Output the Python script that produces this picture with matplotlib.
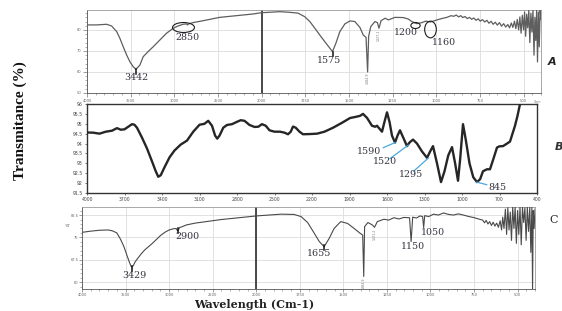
import numpy as np
import matplotlib
matplotlib.use('Agg')
import matplotlib.pyplot as plt
from matplotlib.path import Path
from matplotlib.transforms import Affine2D
from matplotlib.ticker import FixedLocator

# ---------------- data (wavenumber cm-1, transmittance %) ----------------
spec_a = [
    (4000, 82.4), (3890, 82.4), (3775, 82.7), (3718, 81.9), (3660, 79.2), (3623, 76.0),
    (3585, 72.0), (3546, 68.1), (3509, 64.9), (3471, 62.5), (3440, 61.3), (3394, 63.3),
    (3356, 67.3), (3300, 69.7), (3242, 72.0), (3166, 75.2), (3090, 78.4), (3014, 80.8),
    (2957, 81.9), (2900, 82.7), (2861, 82.9), (2850, 82.4), (2835, 82.9), (2785, 83.5),
    (2670, 84.4), (2480, 86.0), (2289, 86.8), (2099, 87.6), (2004, 88.2),
    (1897, 88.7), (1839, 88.4), (1791, 88.0), (1753, 86.3), (1724, 84.0), (1695, 80.8),
    (1667, 77.6), (1638, 74.4), (1609, 71.3), (1594, 69.7), (1575, 73.6), (1552, 79.2),
    (1523, 82.9), (1494, 84.3), (1466, 84.0), (1437, 81.2), (1418, 77.6), (1402, 76.5),
    (1393, 60.0), (1387, 77.0), (1375, 81.6), (1351, 84.0), (1337, 83.5), (1328, 80.8),
    (1316, 84.4), (1293, 85.6), (1274, 84.8), (1236, 86.0), (1188, 85.9), (1160, 85.2),
    (1140, 84.0), (1111, 83.0), (1082, 83.5), (1060, 84.2), (1034, 83.8), (1010, 84.4),
    (987, 85.0), (960, 85.6), (939, 86.0), (915, 86.8),
    (900, 86.5), (885, 87.1), (872, 86.2), (860, 86.8), (848, 85.9), (835, 86.4),
    (822, 85.4), (810, 86.0), (797, 85.1), (785, 85.7), (772, 84.6), (760, 85.3),
    (748, 84.2), (735, 84.9), (722, 83.8), (710, 84.6), (698, 83.2), (686, 84.1),
    (674, 82.7), (662, 83.7), (650, 82.3), (638, 83.5), (626, 81.8), (614, 83.0),
    (602, 81.4), (590, 82.6), (580, 81.0), (570, 83.3), (561, 81.2), (552, 84.2),
    (544, 80.6), (536, 85.0), (528, 80.0), (521, 86.2), (514, 78.5), (507, 87.0),
    (500, 80.0), (494, 88.6), (488, 77.0), (482, 87.5), (476, 81.0), (470, 89.3),
    (464, 74.0), (458, 88.0), (452, 79.0), (446, 89.3), (440, 68.0), (435, 86.0),
    (430, 75.0), (425, 89.3), (420, 64.8), (415, 88.5), (410, 72.0), (405, 89.3),
    (400, 85.0),
]

spec_b = [
    (4000, 94.56), (3950, 94.55), (3900, 94.50), (3850, 94.60), (3800, 94.65), (3760, 94.78),
    (3730, 94.70), (3700, 94.72), (3670, 94.85), (3640, 94.98), (3620, 94.95), (3600, 94.80),
    (3560, 94.30), (3520, 93.75), (3480, 93.10), (3450, 92.60), (3430, 92.32), (3410, 92.40),
    (3380, 92.80), (3340, 93.30), (3300, 93.65), (3250, 93.95), (3200, 94.15), (3150, 94.60),
    (3100, 94.95), (3060, 95.00), (3030, 95.15), (3000, 94.90), (2975, 94.40), (2958, 94.25),
    (2940, 94.40), (2910, 94.80), (2880, 94.94), (2840, 94.98), (2800, 95.10), (2770, 95.18),
    (2740, 95.15), (2700, 94.94), (2660, 94.84), (2630, 94.85), (2600, 94.98), (2570, 94.90),
    (2540, 94.67), (2500, 94.60), (2456, 94.60), (2420, 94.55), (2392, 94.47), (2370, 94.60),
    (2352, 94.86), (2330, 94.80), (2300, 94.60), (2272, 94.47), (2220, 94.48), (2160, 94.50),
    (2100, 94.60), (2032, 94.80), (1960, 95.05), (1896, 95.29), (1850, 95.35), (1816, 95.40),
    (1792, 95.50), (1760, 95.30), (1720, 94.90), (1695, 94.85), (1680, 94.90), (1660, 94.75),
    (1640, 94.60), (1620, 95.10), (1600, 95.58), (1580, 95.10), (1560, 94.40), (1536, 94.05),
    (1516, 94.40), (1496, 94.67), (1470, 94.30), (1440, 93.87), (1420, 94.05), (1392, 94.20),
    (1360, 94.00), (1320, 93.60), (1280, 93.28), (1255, 93.60), (1232, 93.87), (1200, 93.00),
    (1168, 92.05), (1140, 92.60), (1110, 93.40), (1080, 93.82), (1055, 93.00), (1032, 92.12),
    (1015, 93.20), (992, 94.98), (970, 94.20), (940, 93.00), (910, 92.30), (880, 92.05),
    (855, 92.20), (832, 92.60), (800, 92.70), (776, 92.70), (750, 93.20), (720, 93.80),
    (700, 93.86), (672, 93.87), (640, 94.00), (616, 94.10), (596, 94.50), (576, 94.90),
    (556, 95.40), (536, 96.00), (520, 96.60),
]

spec_c = [
    (4000, 76.7), (3900, 77.1), (3800, 77.4), (3700, 77.5), (3650, 77.2), (3600, 76.5),
    (3560, 74.5), (3520, 72.0), (3490, 69.5), (3460, 67.0), (3440, 65.5), (3429, 65.0),
    (3410, 65.6), (3390, 66.8), (3360, 68.0), (3320, 69.5), (3280, 70.8), (3240, 71.8),
    (3200, 72.8), (3150, 74.2), (3100, 75.6), (3050, 76.7), (3000, 77.5), (2950, 77.9),
    (2920, 78.0), (2905, 77.3), (2895, 77.4), (2880, 78.3), (2850, 78.6), (2800, 79.2),
    (2700, 79.8), (2600, 80.2), (2500, 80.6), (2400, 81.0), (2300, 81.3), (2200, 81.6),
    (2100, 81.9), (2000, 82.2),
    (1857, 82.8), (1783, 82.7), (1743, 82.0), (1705, 80.0), (1667, 76.4), (1638, 73.6),
    (1610, 71.9), (1581, 74.7), (1553, 78.0), (1515, 80.3), (1476, 79.7), (1438, 78.0),
    (1404, 76.4), (1389, 75.8), (1383, 61.9), (1378, 78.6), (1359, 80.0), (1334, 79.2),
    (1321, 78.4), (1305, 80.3), (1267, 81.1), (1240, 80.8), (1210, 81.6), (1180, 81.2),
    (1153, 81.7), (1120, 81.6), (1111, 73.6), (1102, 81.8), (1080, 81.5), (1060, 82.2),
    (1045, 82.0), (1039, 78.3), (1033, 82.3), (1010, 82.0), (982, 82.8), (955, 82.5),
    (925, 83.2), (895, 82.7), (868, 82.5), (840, 82.9), (811, 82.5), (780, 82.0),
    (754, 81.7), (725, 81.2),
    (700, 80.8), (690, 79.9), (680, 80.7), (670, 79.5), (660, 80.3), (650, 79.0),
    (640, 80.1), (630, 78.8), (620, 79.8), (610, 78.4), (600, 80.6), (592, 77.5),
    (585, 81.8), (578, 78.0), (570, 84.5), (563, 76.0), (556, 85.0), (549, 77.5),
    (542, 83.5), (535, 74.0), (528, 85.2), (521, 78.0), (514, 85.2), (507, 73.0),
    (500, 84.0), (493, 76.0), (486, 85.2), (479, 72.5), (472, 85.2), (465, 80.0),
    (458, 85.0), (451, 74.0), (444, 85.2), (437, 77.0), (430, 85.2), (424, 70.0),
    (418, 85.2), (414, 57.8), (410, 84.0), (405, 78.0), (400, 84.5),
]

wn_a, t_a = map(list, zip(*spec_a))
wn_b, t_b = map(list, zip(*spec_b))
wn_c, t_c = map(list, zip(*spec_c))

xticks_split = [4000, 3500, 3000, 2500, 2000, 1750, 1500, 1250, 1000, 750, 500]
xticks_lin = [4000, 3700, 3400, 3100, 2800, 2500, 2200, 1900, 1600, 1300, 1000, 700, 400]
yticks_a = [50, 60, 70, 80]
yticks_b = [91.5, 92, 92.5, 93, 93.5, 94, 94.5, 95, 95.5, 96]
yticks_c = [60, 67.5, 75, 82.5]

# peak annotations: (label, x, y)
ann_a = [("3442", 3440, 57.6), ("2850", 2846, 76.2), ("1575", 1615, 65.7),
         ("1200", 1172, 78.6), ("1160", 957, 73.8)]
ann_b = [("1590", 1744, 93.60), ("1520", 1620, 93.09), ("1295", 1404, 92.43), ("845", 716, 91.77)]
ann_c = [("3429", 3399, 62.2), ("2900", 2792, 75.2), ("1655", 1637, 69.5),
         ("1150", 1098, 71.8), ("1050", 984, 76.5)]


# ---------------- split (scale-change at 2000) axis ----------------
def fwd(w):
    w = np.asarray(w, dtype=float)
    return np.where(w >= 2000, w / 500.0 - 4.0, (w - 2000.0) / 250.0)


def inv(u):
    u = np.asarray(u, dtype=float)
    return np.where(u >= 0, 500.0 * (u + 4.0), 2000.0 + 250.0 * u)


W, H = 562, 311
fig = plt.figure(figsize=(W / 100, H / 100), dpi=100)


def box(l, t, r, b):
    return [l / W, 1 - b / H, (r - l) / W, (b - t) / H]


axA = fig.add_axes(box(87, 10, 541, 93))
axB = fig.add_axes(box(87, 104, 537, 193))
axC = fig.add_axes(box(82, 207, 535, 289))

minor_split = [v for v in range(3900, 2000, -100) if v % 500] + \
              [v for v in range(1950, 399, -50) if v % 250]


def style_split(ax, yticks, ylim, yminor, tick_len=3, pad=1.0):
    ax.set_xscale('function', functions=(fwd, inv))
    ax.set_xlim(4000, 400)
    ax.set_ylim(*ylim)
    ax.set_xticks(xticks_split)
    ax.set_xticklabels([str(v) for v in xticks_split])
    ax.xaxis.set_minor_locator(FixedLocator(minor_split))
    ax.set_yticks(yticks)
    ax.set_yticklabels(['%g' % v for v in yticks])
    ax.yaxis.set_minor_locator(FixedLocator(yminor))
    ax.grid(True, which='major', color='#dcdcdc', lw=0.6)
    ax.set_axisbelow(True)
    ax.axvline(2000, color='#3a3a3a', lw=1.3, zorder=1.5)
    ax.tick_params(which='major', labelsize=2.6, colors='#777', labelcolor='#666',
                   length=tick_len, width=0.5, pad=pad)
    ax.tick_params(which='minor', length=1.6, width=0.4, colors='#777')
    for s in ax.spines.values():
        s.set_color('#9a9a9a')
        s.set_linewidth(0.6)
    ax.spines['left'].set_color('#555')
    ax.spines['bottom'].set_color('#555')


style_split(axA, yticks_a, (50, 89.5), list(np.arange(50, 89.5, 2.0)))
style_split(axC, yticks_c, (57.7, 85.2), list(np.arange(58.5, 85.2, 1.5)), tick_len=2, pad=0.6)

axA.plot(wn_a, t_a, color='#5e5e5e', lw=0.9, zorder=3)
axC.plot(wn_c, t_c, color='#4a4a4a', lw=0.8, zorder=3)

# ---------------- linear panel B ----------------
axB.set_xlim(4000, 400)
axB.set_ylim(91.5, 96)
axB.set_xticks(xticks_lin)
axB.set_xticklabels([str(v) for v in xticks_lin])
axB.set_yticks(yticks_b)
axB.set_yticklabels(['%g' % v for v in yticks_b])
axB.tick_params(labelsize=3.3, colors='#444', length=1.5, width=0.5, pad=1.5)
for s in axB.spines.values():
    s.set_color('#333')
    s.set_linewidth(1.0)
axB.plot(wn_b, t_b, color='#262626', lw=1.7, zorder=3)

# ---------------- annotations ----------------
lab_kw = dict(family='DejaVu Serif', fontsize=6.8, color='#34343f', ha='center', va='center')
for ax, anns in ((axA, ann_a), (axC, ann_c)):
    for txt, x, y in anns:
        ax.text(x, y, txt, zorder=5, **lab_kw)
for txt, x, y in ann_b:
    axB.text(x, y, txt, zorder=5, **lab_kw)

# blue leader lines in B
leaders_b = [((1630, 93.79), (1536, 94.05)), ((1576, 93.24), (1430, 93.92)),
             ((1387, 92.60), (1267, 93.28)), ((802, 91.92), (882, 92.05))]
for (x0, y0), (x1, y1) in leaders_b:
    axB.plot([x0, x1], [y0, y1], color='#4aa8e0', lw=0.9, zorder=4)

# small peak-pick bars
bars_a = [(3440, 61.3, 59.0), (1594, 69.7, 67.6)]
bars_c = [(3425, 65.3, 63.6), (2900, 78.2, 76.5), (1610, 72.5, 70.8)]
for x, y0, y1 in bars_a:
    axA.plot([x, x], [y0, y1], color='#111', lw=1.1, zorder=4)
for x, y0, y1 in bars_c:
    axC.plot([x, x], [y0, y1], color='#111', lw=1.1, zorder=4)

tiny_kw = dict(fontsize=2.3, rotation=90, color='#777', ha='center', va='top')
axA.text(1393, 59.6, '1384.9', **tiny_kw)
axA.text(1328, 80.3, '1327.1', **tiny_kw)
axC.text(1383, 61.5, '1384.9', **tiny_kw)
axC.text(1321, 78.0, '1321.2', **tiny_kw)
axA.text(1.0, -0.09, '1/cm', transform=axA.transAxes, fontsize=2.2, color='#777',
         ha='right', va='top')

# ellipses drawn as outline markers
circ = Path.unit_circle()
ell_wide = Affine2D().scale(2.2, 1.0).transform_path(circ)
ell_small = Affine2D().scale(1.55, 1.0).transform_path(circ)
ell_tall = Affine2D().scale(1.0, 1.43).transform_path(circ)
ellipses = [(2903, 81.4, ell_wide, 15.8), (1119, 82.5, ell_small, 6.7), (1033, 80.5, ell_tall, 12.0)]
for x, y, pth, ms in ellipses:
    axA.plot([x], [y], marker=pth, ms=ms, mfc='none', mec='#1e1e1e', mew=0.8,
             linestyle='none', zorder=5)

# ---------------- figure texts ----------------
fig.text(68 / W, 1 - 226 / H, '%T', fontsize=2.6, color='#666', ha='center', va='center')
fig.text(552 / W, 1 - 62 / H, 'A', style='italic', fontweight='bold', fontsize=8,
         color='#222', ha='center', va='center')
fig.text(559 / W, 1 - 147 / H, 'B', style='italic', fontweight='bold', fontsize=8,
         color='#333', ha='center', va='center')
fig.text(554 / W, 1 - 220 / H, 'C', family='DejaVu Serif', fontsize=8,
         color='#222', ha='center', va='center')
fig.text(20 / W, 1 - 121 / H, 'Transmitance (%)', rotation=90, family='Liberation Serif',
         fontweight='bold', fontsize=11, ha='center', va='center', color='#111')
fig.text(254 / W, 1 - 305 / H, 'Wavelength (Cm-1)', family='DejaVu Serif',
         fontweight='bold', fontsize=8.0, ha='center', va='center', color='#222')

fig.savefig('out.png', dpi=100)
